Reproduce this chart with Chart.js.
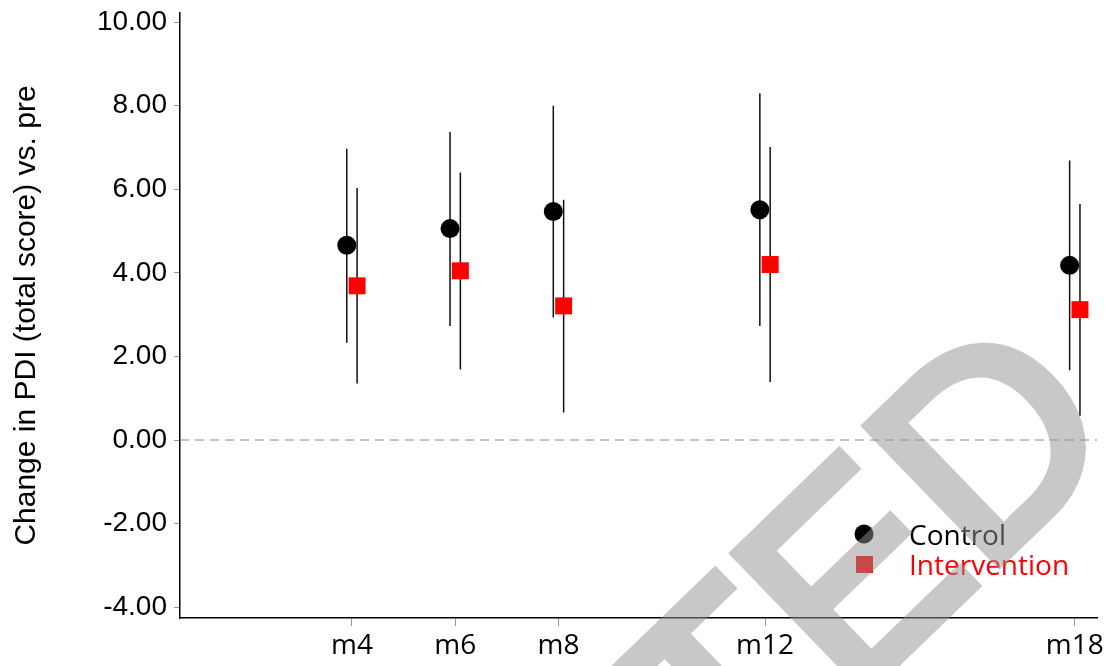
<!DOCTYPE html>
<html lang="en">
<head>
    <meta charset="UTF-8">
    <script src="https://cdn.jsdelivr.net/npm/chart.js"></script>
    <style>
        body { margin: 0; padding: 0; background: #fff; }
        .chart-container { position: relative; width: 1112px; height: 666px; }
    </style>
</head>
<body>
    <div class="chart-container">
        <canvas id="myChart"></canvas>
    </div>

    <script>
        // --- DATA ---
        const months = [4, 6, 8, 12, 18];
        const monthLabels = ['m4', 'm6', 'm8', 'm12', 'm18'];
        const controlMean = [4.66, 5.06, 5.47, 5.51, 4.18];
        const controlLow = [2.33, 2.73, 2.93, 2.73, 1.67];
        const controlHigh = [6.97, 7.38, 8.00, 8.30, 6.69];
        const interMean = [3.69, 4.05, 3.21, 4.20, 3.12];
        const interLow = [1.35, 1.69, 0.66, 1.39, 0.58];
        const interHigh = [6.03, 6.40, 5.75, 7.01, 5.65];
        const yTicks = [-4, -2, 0, 2, 4, 6, 8, 10];

        const shift = 0.1; // groups are dodged a little left / right of the month
        const xMin = 0.67, xMax = 18.43;

        const controlPts = months.map((m, i) => ({ x: m - shift, y: controlMean[i] }));
        const interPts = months.map((m, i) => ({ x: m + shift, y: interMean[i] }));

        // whiskers as one broken line per group (null breaks the line)
        function whiskers(off, lo, hi) {
            const out = [];
            months.forEach((m, i) => {
                out.push({ x: m + off, y: lo[i] });
                out.push({ x: m + off, y: hi[i] });
                out.push({ x: m + off, y: null });
            });
            return out;
        }

        const FONT = '"Liberation Sans", Arial, sans-serif';
        const FONT2 = '"Open Sans", sans-serif';

        // legend sits inside the plot (bottom right), grey stamp goes over everything
        const overlayPlugin = {
            id: 'overlay',
            afterDraw(chart) {
                const ctx = chart.ctx;
                ctx.save();
                ctx.fillStyle = '#000';
                ctx.beginPath();
                ctx.arc(864, 534, 9.5, 0, Math.PI * 2);
                ctx.fill();
                ctx.fillStyle = '#ff0000';
                ctx.fillRect(856, 556, 17, 17);
                ctx.font = '28px ' + FONT2;
                ctx.textBaseline = 'alphabetic';
                ctx.textAlign = 'left';
                ctx.fillStyle = '#000';
                ctx.fillText('Control', 909, 545);
                ctx.fillStyle = '#ff0000';
                ctx.fillText('Intervention', 909, 575);
                ctx.restore();

                // watermark: drawn opaque off-screen, then laid on at half alpha
                const k = 275 / 265;
                const off = document.createElement('canvas');
                off.width = chart.width;
                off.height = chart.height;
                const o = off.getContext('2d');
                o.translate(730, 548);
                o.rotate(-44 * Math.PI / 180);
                o.font = '275px ' + FONT;
                o.textBaseline = 'alphabetic';
                o.fillStyle = 'rgb(146,146,146)';
                o.strokeStyle = 'rgb(146,146,146)';
                o.lineWidth = 11;
                o.fillText('TED', -183 * k, 190 * k);
                o.strokeText('TED', -183 * k, 190 * k);
                ctx.save();
                ctx.globalAlpha = 0.5;
                ctx.drawImage(off, 0, 0);
                ctx.restore();
            }
        };

        const ctx = document.getElementById('myChart').getContext('2d');
        new Chart(ctx, {
            type: 'scatter',
            data: {
                datasets: [
                    {
                        label: 'zero',
                        type: 'line',
                        data: [{ x: xMin, y: 0 }, { x: xMax, y: 0 }],
                        borderColor: '#888',
                        borderWidth: 1,
                        borderDash: [9, 6],
                        pointRadius: 0,
                        order: 3
                    },
                    {
                        label: 'ctrlCI',
                        type: 'line',
                        data: whiskers(-shift, controlLow, controlHigh),
                        borderColor: '#111',
                        borderWidth: 1.5,
                        pointRadius: 0,
                        spanGaps: false,
                        order: 2
                    },
                    {
                        label: 'intCI',
                        type: 'line',
                        data: whiskers(shift, interLow, interHigh),
                        borderColor: '#111',
                        borderWidth: 1.5,
                        pointRadius: 0,
                        spanGaps: false,
                        order: 2
                    },
                    {
                        label: 'Control',
                        data: controlPts,
                        pointStyle: 'circle',
                        pointRadius: 9.5,
                        backgroundColor: '#000',
                        borderWidth: 0,
                        order: 0
                    },
                    {
                        label: 'Intervention',
                        data: interPts,
                        pointStyle: 'rect',
                        pointRadius: 12,
                        backgroundColor: '#ff0000',
                        borderWidth: 0,
                        order: 0
                    }
                ]
            },
            options: {
                responsive: true,
                maintainAspectRatio: false,
                animation: false,
                layout: { padding: { left: 6, right: 15, top: 13, bottom: 0 } },
                scales: {
                    x: {
                        type: 'linear',
                        min: xMin,
                        max: xMax,
                        afterBuildTicks: (s) => { s.ticks = months.map(v => ({ value: v })); },
                        afterFit: (s) => { s.height = 48; s.paddingLeft = 0; s.paddingRight = 0; },
                        grid: { display: true, drawOnChartArea: false, drawTicks: true, tickLength: 8, color: '#999' },
                        border: { display: true, color: '#000', width: 1.5 },
                        ticks: {
                            color: '#000',
                            padding: 3,
                            font: { size: 28, family: FONT2 },
                            maxRotation: 0,
                            autoSkip: false,
                            callback: (v) => monthLabels[months.indexOf(v)]
                        }
                    },
                    y: {
                        min: -4.26,
                        max: 10.22,
                        afterBuildTicks: (s) => { s.ticks = yTicks.map(v => ({ value: v })); },
                        afterFit: (s) => { s.width = 174; s.paddingTop = 0; s.paddingBottom = 0; },
                        grid: { display: true, drawOnChartArea: false, drawTicks: true, tickLength: 6, color: '#999' },
                        border: { display: true, color: '#000', width: 1.5 },
                        title: {
                            display: true,
                            text: 'Change in PDI (total score) vs. pre',
                            color: '#000',
                            font: { size: 30, family: FONT },
                            padding: { top: 3, bottom: 0 }
                        },
                        ticks: {
                            color: '#000',
                            padding: 7,
                            font: { size: 28, family: FONT },
                            autoSkip: false,
                            callback: (v) => Number(v).toFixed(2)
                        }
                    }
                },
                plugins: {
                    legend: { display: false },
                    tooltip: { enabled: false }
                }
            },
            plugins: [overlayPlugin]
        });
    </script>
</body>
</html>
